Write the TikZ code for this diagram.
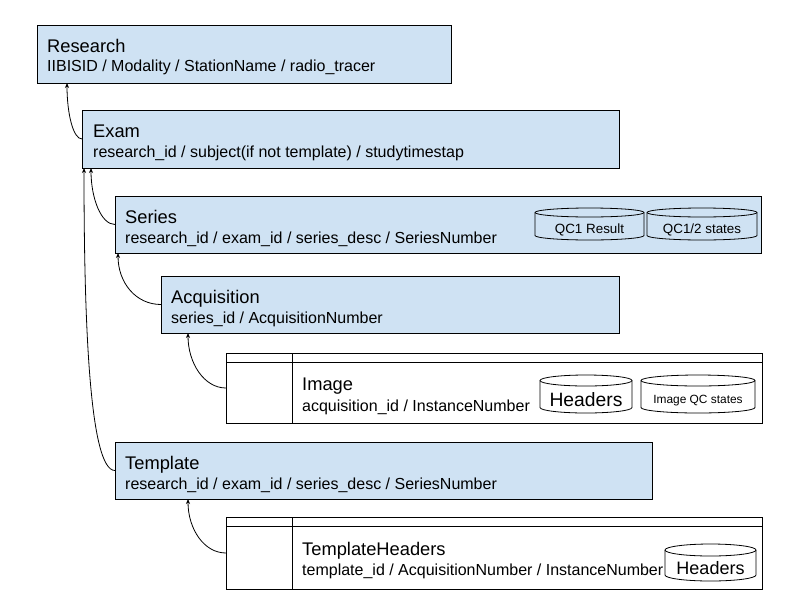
\documentclass[tikz,border=0pt]{standalone}
\usepackage{fontspec}
\setmainfont{Liberation Sans}
\usetikzlibrary{arrows.meta,calc}
\definecolor{boxblue}{HTML}{CFE2F3}
\newcommand\mycan[9]{%
  \draw[canline,fill=#8] (#2,#3+#6) -- (#2,#5-#6)
    arc[start angle=180,end angle=360,x radius={(#4-#2)/2*1pt},y radius=#6pt]
    -- (#4,#3+#6)
    arc[start angle=0,end angle=180,x radius={(#4-#2)/2*1pt},y radius=#6pt] -- cycle;
  \draw[canline] (#4,#3+#6) arc[start angle=0,end angle=-180,x radius={(#4-#2)/2*1pt},y radius=#6pt];
  \node[font=\fontsize{#7}{#7}\selectfont,anchor=base,inner sep=0pt] (#1)
    at ({(#2+#4)/2},{(#3+#5)/2+#6+0.36*#7}) {#9};
}
\tikzset{
  box/.style={rectangle,draw=black,fill=boxblue,line width=1pt,inner sep=0pt,outer sep=0pt},
  tbl/.style={rectangle,draw=black,fill=white,line width=1pt,inner sep=0pt,outer sep=0pt},
  tline/.style={line width=1pt},
  canline/.style={line width=0.8pt},
  ttl/.style={anchor=base west,inner sep=0pt,font=\fontsize{18.3}{20}\selectfont},
  sub/.style={anchor=base west,inner sep=0pt,font=\fontsize{16}{18}\selectfont},
  conn/.style={line width=0.8pt,-{Stealth[length=5pt,width=4pt]}}
}
\begin{document}
\begin{tikzpicture}[x=1pt,y=-1pt]
\fill[white] (0,0) rectangle (800,600);
\useasboundingbox (0,0) rectangle (800,600);

% boxes
\node[box,minimum width=414pt,minimum height=58pt] (research) at (244,54) {};
\node[box,minimum width=537pt,minimum height=58pt] (exam) at (350.5,139) {};
\node[box,minimum width=646pt,minimum height=57pt] (series) at (438,224.5) {};
\node[box,minimum width=458pt,minimum height=57pt] (acq) at (390,304.5) {};
\node[tbl,minimum width=536pt,minimum height=70pt] (image) at (494,388) {};
\node[box,minimum width=537pt,minimum height=57pt] (template) at (383.5,470.5) {};
\node[tbl,minimum width=536pt,minimum height=72pt] (theaders) at (494,553) {};

% table rules
\draw[tline] ($(image.north west)+(0,9)$) -- ($(image.north east)+(0,9)$);
\draw[tline] ($(image.north west)+(66,0)$) -- ($(image.south west)+(66,0)$);
\draw[tline] ($(theaders.north west)+(0,9)$) -- ($(theaders.north east)+(0,9)$);
\draw[tline] ($(theaders.north west)+(66,0)$) -- ($(theaders.south west)+(66,0)$);

% texts
\node[ttl] (researchT) at (47,52) {Research};
\node[sub] (researchS) at (47,71) {IIBISID / Modality / StationName / radio\_tracer};
\node[ttl] (examT) at (93,137) {Exam};
\node[sub] (examS) at (93,157) {research\_id / subject(if not template) / studytimestap};
\node[ttl] (seriesT) at (125,223) {Series};
\node[sub] (seriesS) at (125,243) {research\_id / exam\_id / series\_desc / SeriesNumber};
\node[ttl] (acqT) at (171,303) {Acquisition};
\node[sub] (acqS) at (171,323) {series\_id / AcquisitionNumber};
\node[ttl] (imageT) at (302,390) {Image};
\node[sub] (imageS) at (302,411) {acquisition\_id / InstanceNumber};
\node[ttl] (templateT) at (125,469) {Template};
\node[sub] (templateS) at (125,489) {research\_id / exam\_id / series\_desc / SeriesNumber};
\node[ttl] (theadersT) at (302,555) {TemplateHeaders};
\node[sub] (theadersS) at (302,575) {template\_id / AcquisitionNumber / InstanceNumber};

% cylinders
\mycan{qc1}{535}{208}{644}{240}{4.5}{13.4}{boxblue}{QC1 Result}
\mycan{qc12}{647}{208}{757}{240}{4.5}{13.4}{boxblue}{QC1/2 states}
\mycan{hdr1}{540}{375}{632}{413}{5.5}{19.3}{white}{Headers}
\mycan{iqc}{641}{375}{755}{413}{5.5}{11.9}{white}{Image QC states}
\mycan{hdr2}{665}{544}{756}{581}{6}{18}{white}{Headers}

% connector end points
\coordinate (e1) at ($(research.south west)+(30,0)$);
\coordinate (e2) at ($(exam.south west)+(9,0)$);
\coordinate (e3) at ($(exam.south west)+(2,0)$);
\coordinate (e4) at ($(series.south west)+(3,0)$);
\coordinate (e5) at ($(acq.south west)+(27,0)$);
\coordinate (e6) at ($(template.south west)+(73,0)$);

% connectors
\draw[conn] (exam.west) .. controls ($(exam.west)+(-9,0)$) and ($(e1)+(0,30)$) .. (e1);
\draw[conn] (series.west) .. controls ($(series.west)+(-14,0)$) and ($(e2)+(0,30)$) .. (e2);
\draw[conn] (template.west) .. controls ($(template.west)+(-25,0)$) and ($(e3)+(0,160)$) .. (e3);
\draw[conn] (acq.west) .. controls ($(acq.west)+(-25,0)$) and ($(e4)+(0,30)$) .. (e4);
\draw[conn] (image.west) .. controls ($(image.west)+(-22,0)$) and ($(e5)+(0,30)$) .. (e5);
\draw[conn] (theaders.west) .. controls ($(theaders.west)+(-22,0)$) and ($(e6)+(0,30)$) .. (e6);
\end{tikzpicture}
\end{document}
